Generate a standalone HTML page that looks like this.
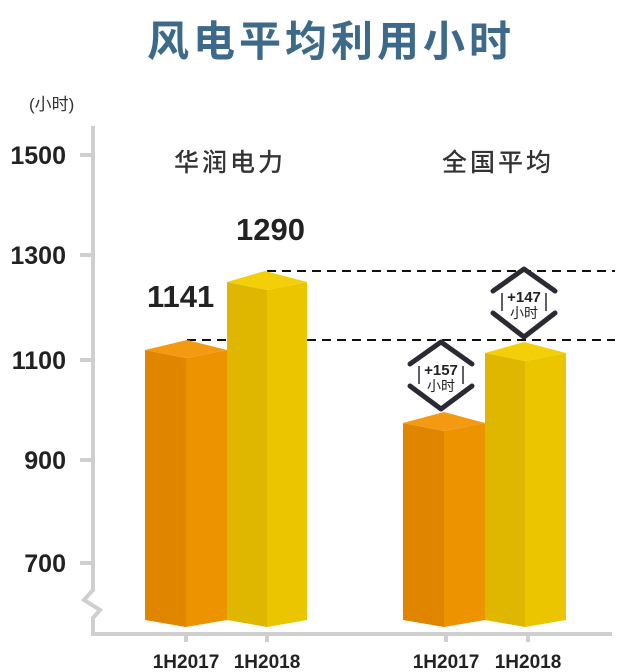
<!DOCTYPE html>
<html><head><meta charset="utf-8"><style>
html,body{margin:0;padding:0;background:#fff;}
svg{display:block;font-family:"Liberation Sans","Noto Sans CJK SC",sans-serif;}
</style></head><body>
<svg width="640" height="672" viewBox="0 0 640 672">
<text x="331" y="56" text-anchor="middle" font-size="42" font-weight="bold" fill="#3d6a8a" font-family="Noto Sans CJK SC, sans-serif" letter-spacing="4">风电平均利用小时</text>
<text x="29" y="110" font-size="17" fill="#333" font-family="Liberation Sans, Noto Sans CJK SC, sans-serif">(小时)</text>
<!-- axis -->
<g stroke="#cfcfcf" stroke-width="4" fill="none">
<path d="M93 126 V590 L84 600 L100 610 L93 618 V634 H612"/>
<path d="M80 155 H93 M80 255 H93 M80 360 H93 M80 460 H93 M80 563 H93"/>
<path d="M186 634 V642 M267 634 V642 M446 634 V642 M528 634 V642"/>
</g>
<g font-size="25" font-weight="bold" fill="#222" text-anchor="end">
<text x="66" y="164">1500</text><text x="66" y="264">1300</text><text x="66" y="369">1100</text><text x="66" y="469">900</text><text x="66" y="572">700</text>
</g>
<g font-size="19" font-weight="bold" fill="#222" text-anchor="middle">
<text x="186" y="668">1H2017</text><text x="267" y="668">1H2018</text><text x="446" y="668">1H2017</text><text x="528" y="668">1H2018</text>
</g>
<g font-size="25" fill="#333" text-anchor="middle" font-family="Noto Sans CJK SC, sans-serif" letter-spacing="3" font-weight="500">
<text x="230" y="171">华润电力</text><text x="498" y="171">全国平均</text>
</g>
<!-- dashed -->
<g stroke="#111" stroke-width="2" stroke-dasharray="9,6">
<path d="M267 271 H615"/><path d="M187 340 H615"/>
</g>
<polygon points="145,350 186,358 186,627 145,620" fill="#e08500"/>
<polygon points="186,358 227,350 227,620 186,627" fill="#ee9300"/>
<polygon points="145,350 187,340 227,350 186,358" fill="#f39a12"/>
<polygon points="227,282 267,290 267,627 227,620" fill="#dfb700"/>
<polygon points="267,290 307,282 307,620 267,627" fill="#ebc600"/>
<polygon points="227,282 265,271 307,282 267,290" fill="#f3cf08"/>
<polygon points="403,423 444,431 444,627 403,620" fill="#e08500"/>
<polygon points="444,431 485,423 485,620 444,627" fill="#ee9300"/>
<polygon points="403,423 444,412 485,423 444,431" fill="#f39a12"/>
<polygon points="485,353 525,361 525,627 485,620" fill="#dfb700"/>
<polygon points="525,361 566,353 566,620 525,627" fill="#ebc600"/>
<polygon points="485,353 524,342 566,353 525,361" fill="#f3cf08"/>
<g font-size="31" font-weight="bold" fill="#222">
<text x="147" y="307">1141</text><text x="236" y="240">1290</text>
</g>
<g stroke="#2a2a35" stroke-width="5" fill="none" stroke-linecap="round" stroke-linejoin="round">
<path d="M410 364 L441 342 L472 364"/><path d="M410 386 L441 409 L472 386"/>
<path d="M493 291 L524 269 L555 291"/><path d="M493 313 L524 337 L555 313"/>
</g>
<g stroke="#2a2a35" stroke-width="1.5">
<path d="M419 366 V384 M463 366 V384 M502 293 V311 M546 293 V311"/>
</g>
<g font-size="15" font-weight="bold" fill="#222" text-anchor="middle">
<text x="441" y="375">+157</text><text x="524" y="302">+147</text>
</g>
<g font-size="14" fill="#222" text-anchor="middle" font-family="Noto Sans CJK SC, sans-serif">
<text x="441" y="391">小时</text><text x="524" y="318">小时</text>
</g>
</svg>
</body></html>
